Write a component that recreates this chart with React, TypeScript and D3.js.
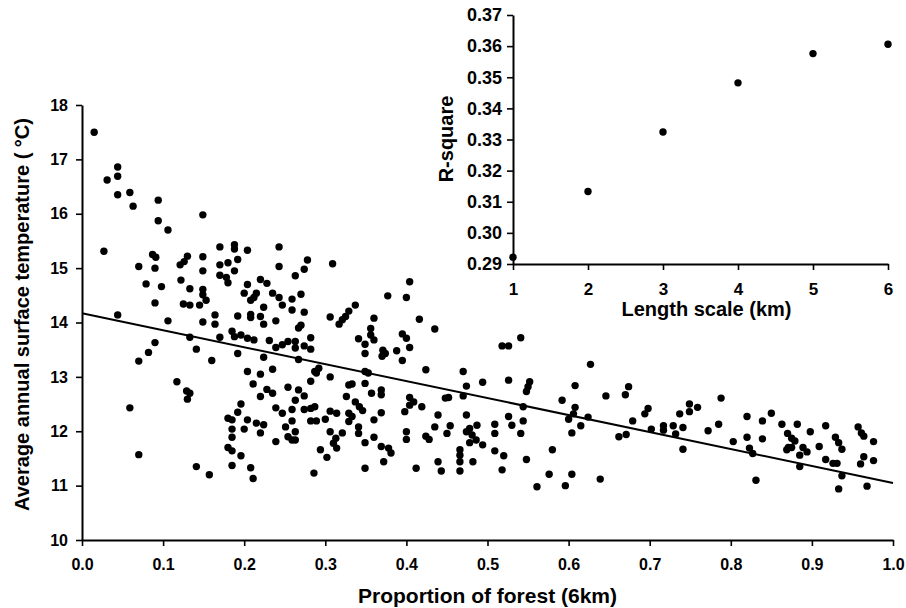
import React, { useEffect, useRef } from "react";
import * as d3 from "d3";

// proportion of forest (6km) vs average annual surface temperature (°C)
const samples: [number, number][] = [
  [0.015, 17.5], [0.031, 16.62], [0.044, 16.86], [0.044, 16.69], [0.044, 16.35], [0.059, 16.39], [0.063, 16.14],
  [0.094, 16.25], [0.094, 15.87], [0.106, 15.7], [0.149, 15.98], [0.027, 15.31], [0.07, 15.03], [0.087, 15.25],
  [0.091, 15.2], [0.09, 15.0], [0.079, 14.71], [0.098, 14.66], [0.121, 15.06], [0.126, 15.12], [0.13, 15.22],
  [0.122, 14.78], [0.133, 14.62], [0.149, 15.21], [0.149, 14.95], [0.149, 14.61], [0.17, 15.39], [0.17, 15.06],
  [0.17, 14.87],
  [0.149, 14.51], [0.153, 14.41], [0.09, 14.36], [0.125, 14.34], [0.133, 14.32], [0.145, 14.32], [0.164, 14.14],
  [0.044, 14.14], [0.106, 14.03], [0.149, 14.01], [0.164, 13.97], [0.133, 13.73], [0.17, 13.73], [0.09, 13.63],
  [0.082, 13.45], [0.07, 13.29], [0.141, 13.51], [0.16, 13.3], [0.117, 12.91], [0.129, 12.74], [0.133, 12.7],
  [0.13, 12.59], [0.059, 12.43], [0.07, 11.57], [0.141, 11.35], [0.157, 11.2],
  [0.188, 15.43], [0.188, 15.35], [0.204, 15.33], [0.243, 15.39], [0.18, 15.1], [0.192, 15.16], [0.188, 14.95],
  [0.178, 14.83], [0.18, 14.73], [0.243, 15.03], [0.278, 15.15], [0.274, 14.98], [0.263, 14.86], [0.309, 15.08],
  [0.204, 14.7], [0.22, 14.79], [0.228, 14.72], [0.2, 14.54], [0.208, 14.41], [0.215, 14.54], [0.212, 14.46],
  [0.235, 14.54], [0.243, 14.46], [0.247, 14.32], [0.259, 14.43], [0.27, 14.52], [0.224, 14.28], [0.259, 14.23],
  [0.274, 14.19], [0.208, 14.15], [0.208, 14.09], [0.22, 14.11], [0.192, 14.12], [0.224, 13.97], [0.239, 14.03],
  [0.267, 13.9], [0.27, 13.95], [0.306, 14.1], [0.317, 13.97], [0.321, 14.05], [0.325, 14.11], [0.329, 14.21],
  [0.337, 14.32], [0.282, 13.72], [0.341, 13.7], [0.185, 13.84], [0.188, 13.74], [0.196, 13.77], [0.204, 13.71],
  [0.212, 13.68], [0.231, 13.67], [0.239, 13.54], [0.247, 13.59], [0.254, 13.65], [0.263, 13.65], [0.263, 13.53],
  [0.274, 13.57], [0.282, 13.51], [0.192, 13.43], [0.224, 13.36],
  [0.267, 13.32], [0.204, 13.1], [0.22, 13.05], [0.235, 13.14], [0.287, 13.1], [0.292, 13.16], [0.289, 13.07],
  [0.306, 13.0], [0.282, 12.92], [0.329, 12.85], [0.333, 12.87], [0.211, 12.87], [0.228, 12.77], [0.235, 12.7],
  [0.22, 12.64], [0.254, 12.81], [0.267, 12.76], [0.274, 12.65], [0.263, 12.57], [0.326, 12.64], [0.337, 12.54],
  [0.196, 12.5], [0.192, 12.35], [0.239, 12.43], [0.247, 12.33], [0.259, 12.4], [0.274, 12.4], [0.282, 12.42],
  [0.287, 12.45], [0.306, 12.37], [0.314, 12.33], [0.329, 12.33], [0.333, 12.27], [0.18, 12.24], [0.185, 12.21],
  [0.204, 12.21], [0.215, 12.15], [0.224, 12.12], [0.22, 11.97], [0.259, 12.19], [0.282, 12.19], [0.289, 12.19],
  [0.3, 12.22], [0.329, 12.18], [0.185, 12.04], [0.185, 11.89], [0.2, 12.04], [0.251, 12.08], [0.263, 11.99],
  [0.254, 11.9], [0.259, 11.84], [0.263, 11.84], [0.306, 11.99], [0.321, 11.97], [0.313, 11.87], [0.31, 11.78],
  [0.314, 11.69], [0.239, 11.81], [0.18, 11.7], [0.185, 11.64], [0.196, 11.55], [0.294, 11.66], [0.302, 11.52],
  [0.185, 11.37], [0.208, 11.33], [0.211, 11.13], [0.286, 11.23],
  [0.404, 14.75], [0.377, 14.49], [0.4, 14.46], [0.36, 14.08], [0.416, 14.06], [0.435, 13.88], [0.356, 13.89],
  [0.356, 13.77], [0.349, 13.6], [0.36, 13.68], [0.349, 13.43], [0.395, 13.79], [0.4, 13.71], [0.404, 13.54],
  [0.371, 13.49], [0.374, 13.43], [0.37, 13.38], [0.388, 13.48], [0.395, 13.3], [0.518, 13.57], [0.526, 13.57],
  [0.541, 13.72], [0.349, 13.1], [0.353, 13.07], [0.424, 13.13], [0.47, 13.1], [0.349, 12.88], [0.474, 12.83],
  [0.494, 12.9], [0.526, 12.94], [0.55, 12.82], [0.548, 12.73], [0.357, 12.7], [0.369, 12.76], [0.369, 12.67],
  [0.404, 12.62], [0.409, 12.54], [0.404, 12.48], [0.398, 12.36], [0.419, 12.45], [0.448, 12.61], [0.452, 12.62],
  [0.47, 12.65], [0.544, 12.45], [0.342, 12.45], [0.346, 12.38], [0.369, 12.34], [0.36, 12.21], [0.439, 12.3],
  [0.474, 12.3], [0.526, 12.27], [0.53, 12.11], [0.544, 12.19], [0.509, 12.13], [0.341, 12.08], [0.341, 11.96],
  [0.349, 11.79], [0.36, 11.89], [0.4, 11.99], [0.4, 11.85], [0.435, 12.08], [0.424, 11.91], [0.428, 11.85],
  [0.454, 12.1], [0.45, 11.96], [0.474, 11.99], [0.478, 12.05], [0.487, 12.11], [0.481, 11.93], [0.478, 11.79],
  [0.486, 11.84], [0.494, 11.75], [0.509, 11.96], [0.541, 11.96], [0.369, 11.72], [0.378, 11.69], [0.381, 11.6],
  [0.372, 11.44], [0.439, 11.44], [0.443, 11.27], [0.466, 11.66], [0.466, 11.56], [0.466, 11.44], [0.466, 11.27],
  [0.482, 11.44], [0.509, 11.64], [0.52, 11.55], [0.548, 11.48], [0.349, 11.32], [0.412, 11.32], [0.518, 11.29],
  [0.627, 13.23], [0.552, 12.91], [0.608, 12.84], [0.646, 12.65], [0.674, 12.82], [0.67, 12.67], [0.592, 12.57],
  [0.608, 12.44], [0.606, 12.32], [0.6, 12.22], [0.615, 12.1], [0.624, 12.26], [0.604, 11.97], [0.698, 12.42],
  [0.694, 12.32], [0.679, 12.19], [0.749, 12.5], [0.749, 12.36], [0.737, 12.32], [0.759, 12.44], [0.702, 12.04],
  [0.717, 12.1], [0.717, 12.02], [0.729, 12.1], [0.741, 12.07], [0.662, 11.9], [0.671, 11.94], [0.732, 11.95],
  [0.741, 11.67], [0.58, 11.66], [0.576, 11.21], [0.604, 11.21], [0.639, 11.12], [0.561, 10.98], [0.596, 11.0],
  [0.788, 12.61], [0.772, 12.01], [0.785, 12.13], [0.82, 12.27], [0.839, 12.19], [0.85, 12.33], [0.803, 11.81],
  [0.82, 11.89], [0.839, 11.86], [0.823, 11.69], [0.827, 11.59], [0.831, 11.1], [0.863, 12.13], [0.882, 12.13],
  [0.898, 11.99], [0.917, 12.1], [0.87, 11.96], [0.875, 11.87], [0.879, 11.82], [0.871, 11.7], [0.869, 11.66],
  [0.875, 11.7], [0.889, 11.7], [0.894, 11.62], [0.885, 11.56], [0.909, 11.72], [0.885, 11.35], [0.929, 11.89],
  [0.933, 11.79], [0.937, 11.67], [0.917, 11.48], [0.926, 11.41], [0.931, 11.41], [0.937, 11.18], [0.933, 10.94],
  [0.957, 12.08], [0.961, 11.97], [0.964, 11.91], [0.976, 11.81], [0.964, 11.53], [0.96, 11.4], [0.976, 11.46],
  [0.968, 10.99],
];

// fitted line
const trendForest = [0, 1];
const trendTemp = [14.17, 11.05];

// inset: R-square against length scale
const lengthScaleKm = [1, 2, 3, 4, 5, 6];
const rSquare = [0.2922, 0.3133, 0.3324, 0.3482, 0.3576, 0.3606];

const forestTicks = [0, 0.1, 0.2, 0.3, 0.4, 0.5, 0.6, 0.7, 0.8, 0.9, 1.0];
const tempTicks = [10, 11, 12, 13, 14, 15, 16, 17, 18];
const rSquareTicks = [0.29, 0.3, 0.31, 0.32, 0.33, 0.34, 0.35, 0.36, 0.37];

const width = 906;
const height = 608;
const main = { left: 82, right: 893, top: 105, bottom: 540 };
const inset = { left: 513, right: 888, top: 15, bottom: 264 };
const font = "'Liberation Sans', Arial, Helvetica, sans-serif";

const App = () => {
  const svgRef = useRef<SVGSVGElement>(null);

  useEffect(() => {
    const svg = d3.select(svgRef.current);
    svg.selectAll("*").remove();
    svg.attr("width", width).attr("height", height).style("font-family", font);

    const x = d3.scaleLinear().domain([0, 1]).range([main.left, main.right]);
    const y = d3.scaleLinear().domain([10, 18]).range([main.bottom, main.top]);

    const styleAxis = (g, size) => {
      g.select(".domain").attr("stroke", "#000").attr("stroke-width", 2);
      g.selectAll(".tick line").attr("stroke", "#000").attr("stroke-width", 1.6);
      g.selectAll(".tick text")
        .attr("fill", "#000")
        .style("font-size", size + "px")
        .style("font-weight", "bold")
        .style("font-family", font);
    };

    // main axes
    svg
      .append("g")
      .attr("transform", `translate(0,${main.bottom})`)
      .call(
        d3.axisBottom(x).tickValues(forestTicks).tickFormat(d3.format(".1f")).tickSize(6).tickSizeOuter(0).tickPadding(13)
      )
      .call((g) => styleAxis(g, 16));

    svg
      .append("g")
      .attr("transform", `translate(${main.left},0)`)
      .call(d3.axisLeft(y).tickValues(tempTicks).tickFormat(d3.format("d")).tickSize(6).tickSizeOuter(0).tickPadding(8))
      .call((g) => styleAxis(g, 16));

    // scatter
    svg
      .append("g")
      .selectAll("circle")
      .data(samples)
      .enter()
      .append("circle")
      .attr("cx", (d) => x(d[0]))
      .attr("cy", (d) => y(d[1]))
      .attr("r", 3.7)
      .attr("fill", "#000");

    // regression line
    const line = d3
      .line<number>()
      .x((d) => x(d))
      .y((d, i) => y(trendTemp[i]));
    svg.append("path").attr("d", line(trendForest)).attr("fill", "none").attr("stroke", "#000").attr("stroke-width", 2);

    // titles
    svg
      .append("text")
      .attr("x", (main.left + main.right) / 2)
      .attr("y", 603)
      .attr("text-anchor", "middle")
      .style("font-size", "21px")
      .style("font-weight", "bold")
      .text("Proportion of forest (6km)");

    svg
      .append("text")
      .attr("transform", `translate(29,${(main.top + main.bottom) / 2 - 8}) rotate(-90)`)
      .attr("text-anchor", "middle")
      .style("font-size", "20px")
      .style("font-weight", "bold")
      .text("Average annual surface temperature ( °C)");

    // inset
    const ix = d3.scaleLinear().domain([1, 6]).range([inset.left, inset.right]);
    const iy = d3.scaleLinear().domain([0.29, 0.37]).range([inset.bottom, inset.top]);

    svg
      .append("g")
      .attr("transform", `translate(0,${inset.bottom})`)
      .call(d3.axisBottom(ix).tickValues(lengthScaleKm).tickFormat(d3.format("d")).tickSize(6).tickSizeOuter(0).tickPadding(13))
      .call((g) => styleAxis(g, 17));

    svg
      .append("g")
      .attr("transform", `translate(${inset.left},0)`)
      .call(d3.axisLeft(iy).tickValues(rSquareTicks).tickFormat(d3.format(".2f")).tickSize(6).tickSizeOuter(0).tickPadding(5))
      .call((g) => styleAxis(g, 18));

    svg
      .append("g")
      .selectAll("circle")
      .data(lengthScaleKm)
      .enter()
      .append("circle")
      .attr("cx", (d) => ix(d))
      .attr("cy", (d, i) => iy(rSquare[i]))
      .attr("r", 3.7)
      .attr("fill", "#000");

    svg
      .append("text")
      .attr("x", (inset.left + inset.right) / 2 + 6)
      .attr("y", 316)
      .attr("text-anchor", "middle")
      .style("font-size", "20px")
      .style("font-weight", "bold")
      .text("Length scale (km)");

    svg
      .append("text")
      .attr("transform", `translate(453,139) rotate(-90)`)
      .attr("text-anchor", "middle")
      .style("font-size", "20px")
      .style("font-weight", "bold")
      .text("R-square");
  }, []);

  return (
    <div style={{ position: "absolute", left: 0, top: 0 }}>
      <svg ref={svgRef}></svg>
    </div>
  );
};

export default App;
